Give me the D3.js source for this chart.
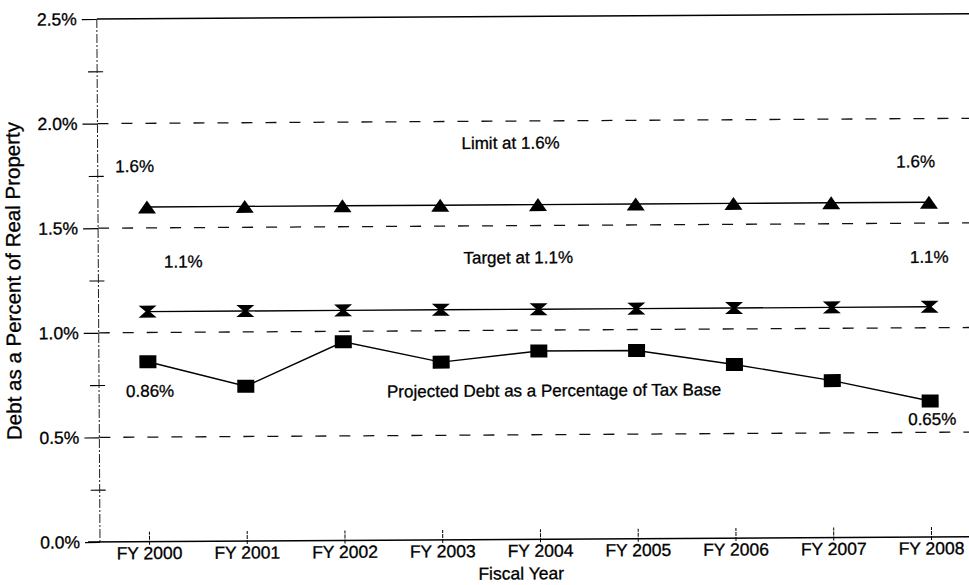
<!DOCTYPE html>
<html>
<head>
<meta charset="utf-8">
<script src="https://cdn.jsdelivr.net/npm/d3@7/dist/d3.min.js"></script>
<style>
  html, body { margin: 0; padding: 0; background: #fff; }
  svg { display: block; font-family: "Liberation Sans", Arial, sans-serif; }
  svg text { stroke: #000; stroke-width: 0.3px; }
</style>
</head>
<body>
<svg id="chart" width="969" height="585"></svg>
<script>
// ---- data ----
const categories = ["FY 2000", "FY 2001", "FY 2002", "FY 2003", "FY 2004", "FY 2005", "FY 2006", "FY 2007", "FY 2008"];
const limitValues = [1.6, 1.6, 1.6, 1.6, 1.6, 1.6, 1.6, 1.6, 1.6];
const targetValues = [1.1, 1.1, 1.1, 1.1, 1.1, 1.1, 1.1, 1.1, 1.1];
const debtValues = [0.86, 0.74, 0.95, 0.85, 0.90, 0.90, 0.83, 0.75, 0.65];
const yTickValues = [0, 0.5, 1.0, 1.5, 2.0, 2.5];
const yMinorTickValues = [0.25, 0.75, 1.25, 1.75, 2.25];
const gridValues = [0.5, 1.0, 1.5, 2.0];
const yAxisTitle = "Debt as a Percent of Real Property";
const xAxisTitle = "Fiscal Year";
const limitLabel = "Limit at 1.6%";
const targetLabel = "Target at 1.1%";
const debtLabel = "Projected Debt as a Percentage of Tax Base";

(function () {
// ---- layout ----
const svg = d3.select("#chart");
const plotLeft = 100, plotBottom = 542, plotTop = 19, rightEdge = 980;
const root = svg.append("g").attr("transform", `rotate(-0.35, ${plotLeft}, ${plotBottom})`);

const x = d3.scalePoint().domain(categories).range([149, 931]);
const y = d3.scaleLinear().domain([0, 2.5]).range([plotBottom, plotTop]);

// gridlines (dashed)
root.append("g").selectAll("line").data(gridValues).join("line")
  .attr("x1", plotLeft).attr("x2", rightEdge)
  .attr("y1", d => y(d)).attr("y2", d => y(d))
  .attr("stroke", "#111").attr("stroke-width", 1.3)
  .attr("stroke-dasharray", "11,13");

// top solid line at 2.5%
root.append("line")
  .attr("x1", plotLeft).attr("x2", rightEdge)
  .attr("y1", y(2.5)).attr("y2", y(2.5))
  .attr("stroke", "#000").attr("stroke-width", 1.5);

// y axis (major ticks + labels)
const yAxis = root.append("g").attr("transform", `translate(${plotLeft},0)`)
  .call(d3.axisLeft(y).tickValues(yTickValues).tickSize(15).tickPadding(5)
    .tickFormat(d => d.toFixed(1) + "%"));
yAxis.select(".domain").remove();
yAxis.selectAll(".tick line").attr("stroke", "#000").attr("stroke-width", 1.2);
yAxis.selectAll(".tick text").attr("font-size", 17.5).attr("fill", "#000")
  .attr("font-family", "Liberation Sans, Arial, sans-serif");

// minor ticks crossing the axis
const yMinor = root.append("g").attr("transform", `translate(${plotLeft + 6},0)`)
  .call(d3.axisLeft(y).tickValues(yMinorTickValues).tickSize(15).tickFormat(""));
yMinor.select(".domain").remove();
yMinor.selectAll(".tick line").attr("stroke", "#000").attr("stroke-width", 1.1);

// y axis line (dash-dot, scanned look)
root.append("line")
  .attr("x1", plotLeft).attr("x2", plotLeft)
  .attr("y1", y(2.5)).attr("y2", y(0))
  .attr("stroke", "#222").attr("stroke-width", 1)
  .attr("stroke-dasharray", "9,2,2,2");

// x axis
const xAxis = root.append("g").attr("transform", `translate(0,${plotBottom})`)
  .call(d3.axisBottom(x).tickSizeInner(-10).tickSizeOuter(0).tickPadding(5));
xAxis.select(".domain").remove();
xAxis.selectAll(".tick line").attr("stroke", "#000").attr("stroke-width", 1).attr("y2", -10).attr("y1", 3)
  .attr("stroke-dasharray", "4,1");
xAxis.selectAll(".tick text").attr("font-size", 17.5).attr("fill", "#000")
  .attr("font-family", "Liberation Sans, Arial, sans-serif");
root.append("line")
  .attr("x1", 88).attr("x2", rightEdge)
  .attr("y1", y(0)).attr("y2", y(0))
  .attr("stroke", "#000").attr("stroke-width", 1.6);

// series
const lineGen = vals => d3.line().x((d, i) => x(categories[i])).y(d => y(d))(vals);

function series(vals, markerPath) {
  const g = root.append("g");
  g.append("path").attr("d", lineGen(vals)).attr("fill", "none")
    .attr("stroke", "#000").attr("stroke-width", 1.4);
  g.selectAll("path.m").data(vals).join("path").attr("class", "m")
    .attr("transform", (d, i) => `translate(${x(categories[i])},${y(d)})`)
    .attr("d", markerPath).attr("fill", "#000");
}
series(limitValues, "M0,-6.5 L9,6.5 L-9,6.5 Z");
series(targetValues, "M-9,-6 H9 L2,0 L9,6 H-9 L-2,0 Z");
series(debtValues, "M-8.5,-6.5 H8.5 V6.5 H-8.5 Z");

// annotations
const ann = root.append("g").attr("font-size", 17).attr("fill", "#000").attr("text-anchor", "middle");
const fmt = v => v.toFixed(1) + "%";
const fmt2 = v => v.toFixed(2) + "%";
const last = categories.length - 1;
ann.append("text").attr("x", x(categories[0]) - 12).attr("y", y(limitValues[0]) - 35).text(fmt(limitValues[0]));
ann.append("text").attr("x", x(categories[last]) - 13).attr("y", y(limitValues[last]) - 35).text(fmt(limitValues[last]));
ann.append("text").attr("x", x(categories[4]) - 27).attr("y", y(limitValues[4]) - 56).text(limitLabel);
ann.append("text").attr("x", x(categories[0]) + 36).attr("y", y(targetValues[0]) - 44).text(fmt(targetValues[0]));
ann.append("text").attr("x", x(categories[4]) - 20).attr("y", y(targetValues[4]) - 46).text(targetLabel);
ann.append("text").attr("x", x(categories[last])).attr("y", y(targetValues[last]) - 44).text(fmt(targetValues[last]));
ann.append("text").attr("x", x(categories[0]) + 2).attr("y", y(debtValues[0]) + 35).text(fmt2(debtValues[0]));
ann.append("text").attr("x", x(categories[4]) + 15).attr("y", y(debtValues[0]) + 37).text(debtLabel);
ann.append("text").attr("x", x(categories[last]) + 2).attr("y", y(debtValues[last]) + 24).text(fmt2(debtValues[last]));

// axis titles
root.append("text")
  .attr("transform", `translate(22,${(plotTop + plotBottom) / 2}) rotate(-90)`)
  .attr("text-anchor", "middle").attr("font-size", 20.5).attr("fill", "#000")
  .text(yAxisTitle);
root.append("text")
  .attr("x", 521).attr("y", 582)
  .attr("text-anchor", "middle").attr("font-size", 17.5).attr("fill", "#000")
  .text(xAxisTitle);
})();
</script>
</body>
</html>
